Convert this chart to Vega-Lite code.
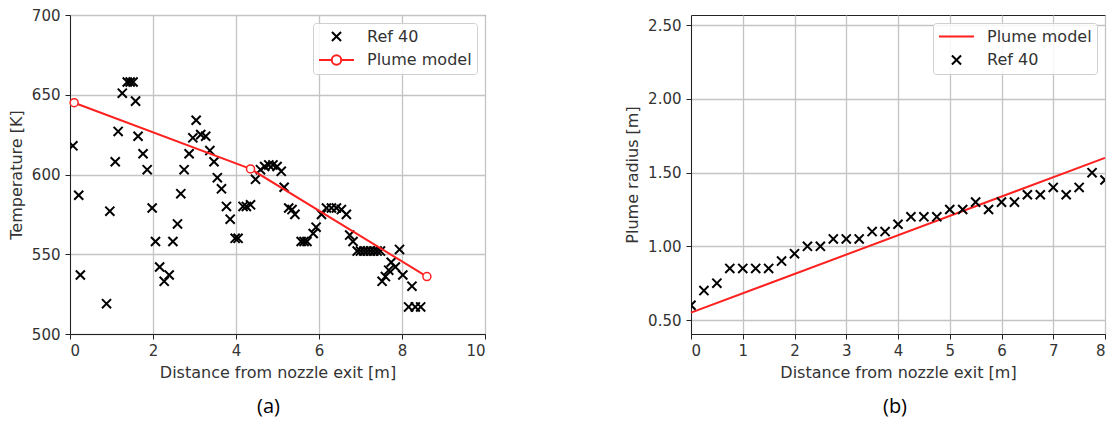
{
  "$schema": "https://vega.github.io/schema/vega-lite/v6.json",
  "background": "white",
  "padding": {"left": 7, "top": 7, "right": 0, "bottom": 0},
  "spacing": 138,
  "config": {
    "font": "DejaVu Sans",
    "view": {"stroke": "#222222", "strokeWidth": 1},
    "axis": {
      "grid": true,
      "gridColor": "#c4c4c4",
      "gridWidth": 1.3,
      "domainColor": "#222222",
      "tickColor": "#222222",
      "tickSize": 5,
      "tickWidth": 1,
      "labelFont": "DejaVu Sans",
      "labelFontSize": 15,
      "labelColor": "#333333",
      "labelPadding": 5,
      "titleFont": "DejaVu Sans",
      "titleFontSize": 16,
      "titleFontWeight": "normal",
      "titleColor": "#333333",
      "titlePadding": 7
    },
    "axisX": {"labelPadding": 4, "titlePadding": 6},
    "legend": {
      "labelFont": "DejaVu Sans",
      "labelFontSize": 16,
      "labelColor": "#333333",
      "fillColor": "rgba(255,255,255,0.85)",
      "strokeColor": "#d0d0d0",
      "cornerRadius": 3,
      "padding": 5,
      "rowPadding": 6.5,
      "clipHeight": 17,
      "labelOffset": 12,
      "symbolStrokeWidth": 2,
      "symbolSize": 1225
    }
  },
  "datasets": {
    "tempRef": [
      {"x": 0.07, "y": 618, "series": "Ref 40"},
      {"x": 0.21, "y": 587, "series": "Ref 40"},
      {"x": 0.25, "y": 537, "series": "Ref 40"},
      {"x": 0.88, "y": 519, "series": "Ref 40"},
      {"x": 0.96, "y": 577, "series": "Ref 40"},
      {"x": 1.09, "y": 608, "series": "Ref 40"},
      {"x": 1.16, "y": 627, "series": "Ref 40"},
      {"x": 1.26, "y": 651, "series": "Ref 40"},
      {"x": 1.38, "y": 658, "series": "Ref 40"},
      {"x": 1.45, "y": 658, "series": "Ref 40"},
      {"x": 1.52, "y": 658, "series": "Ref 40"},
      {"x": 1.58, "y": 646, "series": "Ref 40"},
      {"x": 1.64, "y": 624, "series": "Ref 40"},
      {"x": 1.76, "y": 613, "series": "Ref 40"},
      {"x": 1.86, "y": 603, "series": "Ref 40"},
      {"x": 1.98, "y": 579, "series": "Ref 40"},
      {"x": 2.06, "y": 558, "series": "Ref 40"},
      {"x": 2.16, "y": 542, "series": "Ref 40"},
      {"x": 2.27, "y": 533, "series": "Ref 40"},
      {"x": 2.39, "y": 537, "series": "Ref 40"},
      {"x": 2.48, "y": 558, "series": "Ref 40"},
      {"x": 2.59, "y": 569, "series": "Ref 40"},
      {"x": 2.67, "y": 588, "series": "Ref 40"},
      {"x": 2.75, "y": 603, "series": "Ref 40"},
      {"x": 2.87, "y": 613, "series": "Ref 40"},
      {"x": 2.96, "y": 623, "series": "Ref 40"},
      {"x": 3.04, "y": 634, "series": "Ref 40"},
      {"x": 3.15, "y": 625, "series": "Ref 40"},
      {"x": 3.27, "y": 624, "series": "Ref 40"},
      {"x": 3.37, "y": 615, "series": "Ref 40"},
      {"x": 3.47, "y": 608, "series": "Ref 40"},
      {"x": 3.55, "y": 598, "series": "Ref 40"},
      {"x": 3.65, "y": 591, "series": "Ref 40"},
      {"x": 3.77, "y": 580, "series": "Ref 40"},
      {"x": 3.86, "y": 572, "series": "Ref 40"},
      {"x": 3.98, "y": 560, "series": "Ref 40"},
      {"x": 4.05, "y": 560, "series": "Ref 40"},
      {"x": 4.17, "y": 580, "series": "Ref 40"},
      {"x": 4.25, "y": 580, "series": "Ref 40"},
      {"x": 4.35, "y": 581, "series": "Ref 40"},
      {"x": 4.47, "y": 597, "series": "Ref 40"},
      {"x": 4.59, "y": 603, "series": "Ref 40"},
      {"x": 4.69, "y": 605, "series": "Ref 40"},
      {"x": 4.79, "y": 606, "series": "Ref 40"},
      {"x": 4.89, "y": 606, "series": "Ref 40"},
      {"x": 4.99, "y": 605, "series": "Ref 40"},
      {"x": 5.09, "y": 602, "series": "Ref 40"},
      {"x": 5.16, "y": 592, "series": "Ref 40"},
      {"x": 5.27, "y": 579, "series": "Ref 40"},
      {"x": 5.35, "y": 578, "series": "Ref 40"},
      {"x": 5.42, "y": 575, "series": "Ref 40"},
      {"x": 5.57, "y": 558, "series": "Ref 40"},
      {"x": 5.64, "y": 558, "series": "Ref 40"},
      {"x": 5.71, "y": 558, "series": "Ref 40"},
      {"x": 5.86, "y": 563, "series": "Ref 40"},
      {"x": 5.93, "y": 567, "series": "Ref 40"},
      {"x": 6.06, "y": 575, "series": "Ref 40"},
      {"x": 6.18, "y": 579, "series": "Ref 40"},
      {"x": 6.30, "y": 579, "series": "Ref 40"},
      {"x": 6.42, "y": 579, "series": "Ref 40"},
      {"x": 6.54, "y": 578, "series": "Ref 40"},
      {"x": 6.66, "y": 575, "series": "Ref 40"},
      {"x": 6.74, "y": 562, "series": "Ref 40"},
      {"x": 6.82, "y": 558, "series": "Ref 40"},
      {"x": 6.92, "y": 552, "series": "Ref 40"},
      {"x": 7.00, "y": 552, "series": "Ref 40"},
      {"x": 7.08, "y": 552, "series": "Ref 40"},
      {"x": 7.16, "y": 552, "series": "Ref 40"},
      {"x": 7.24, "y": 552, "series": "Ref 40"},
      {"x": 7.32, "y": 552, "series": "Ref 40"},
      {"x": 7.40, "y": 552, "series": "Ref 40"},
      {"x": 7.48, "y": 552, "series": "Ref 40"},
      {"x": 7.52, "y": 533, "series": "Ref 40"},
      {"x": 7.60, "y": 536, "series": "Ref 40"},
      {"x": 7.68, "y": 540, "series": "Ref 40"},
      {"x": 7.74, "y": 545, "series": "Ref 40"},
      {"x": 7.84, "y": 542, "series": "Ref 40"},
      {"x": 7.94, "y": 553, "series": "Ref 40"},
      {"x": 8.02, "y": 537, "series": "Ref 40"},
      {"x": 8.24, "y": 530, "series": "Ref 40"},
      {"x": 8.16, "y": 517, "series": "Ref 40"},
      {"x": 8.32, "y": 517, "series": "Ref 40"},
      {"x": 8.45, "y": 517, "series": "Ref 40"}
    ],
    "tempModel": [
      {"x": 0.1, "y": 645, "series": "Plume model"},
      {"x": 4.35, "y": 603.5, "series": "Plume model"},
      {"x": 8.6, "y": 536, "series": "Plume model"}
    ],
    "radRef": [
      {"x": 0.0, "y": 0.60, "series": "Ref 40"},
      {"x": 0.25, "y": 0.70, "series": "Ref 40"},
      {"x": 0.5, "y": 0.75, "series": "Ref 40"},
      {"x": 0.75, "y": 0.85, "series": "Ref 40"},
      {"x": 1.0, "y": 0.85, "series": "Ref 40"},
      {"x": 1.25, "y": 0.85, "series": "Ref 40"},
      {"x": 1.5, "y": 0.85, "series": "Ref 40"},
      {"x": 1.75, "y": 0.90, "series": "Ref 40"},
      {"x": 2.0, "y": 0.95, "series": "Ref 40"},
      {"x": 2.25, "y": 1.00, "series": "Ref 40"},
      {"x": 2.5, "y": 1.00, "series": "Ref 40"},
      {"x": 2.75, "y": 1.05, "series": "Ref 40"},
      {"x": 3.0, "y": 1.05, "series": "Ref 40"},
      {"x": 3.25, "y": 1.05, "series": "Ref 40"},
      {"x": 3.5, "y": 1.10, "series": "Ref 40"},
      {"x": 3.75, "y": 1.10, "series": "Ref 40"},
      {"x": 4.0, "y": 1.15, "series": "Ref 40"},
      {"x": 4.25, "y": 1.20, "series": "Ref 40"},
      {"x": 4.5, "y": 1.20, "series": "Ref 40"},
      {"x": 4.75, "y": 1.20, "series": "Ref 40"},
      {"x": 5.0, "y": 1.25, "series": "Ref 40"},
      {"x": 5.25, "y": 1.25, "series": "Ref 40"},
      {"x": 5.5, "y": 1.30, "series": "Ref 40"},
      {"x": 5.75, "y": 1.25, "series": "Ref 40"},
      {"x": 6.0, "y": 1.30, "series": "Ref 40"},
      {"x": 6.25, "y": 1.30, "series": "Ref 40"},
      {"x": 6.5, "y": 1.35, "series": "Ref 40"},
      {"x": 6.75, "y": 1.35, "series": "Ref 40"},
      {"x": 7.0, "y": 1.40, "series": "Ref 40"},
      {"x": 7.25, "y": 1.35, "series": "Ref 40"},
      {"x": 7.5, "y": 1.40, "series": "Ref 40"},
      {"x": 7.75, "y": 1.50, "series": "Ref 40"},
      {"x": 8.0, "y": 1.45, "series": "Ref 40"}
    ],
    "radModel": [
      {"x": 0, "y": 0.55, "series": "Plume model"},
      {"x": 8, "y": 1.6, "series": "Plume model"}
    ]
  },
  "hconcat": [
    {
      "width": 415,
      "height": 319,
      "title": {"text": "(a)", "orient": "bottom", "font": "Open Sans", "fontSize": 20, "fontWeight": "normal", "color": "#000000", "offset": 17, "dx": -9},
      "layer": [
        {
          "data": {"name": "tempRef"},
          "mark": {"type": "point", "strokeWidth": 2, "size": 1225, "opacity": 1, "clip": true},
          "encoding": {
            "x": {"field": "x", "type": "quantitative", "scale": {"domain": [0, 10], "nice": false}, "axis": {"values": [0, 2, 4, 6, 8, 10], "title": "Distance from nozzle exit [m]"}},
            "y": {"field": "y", "type": "quantitative", "scale": {"domain": [500, 700], "nice": false, "zero": false}, "axis": {"values": [500, 525, 550, 575, 600, 625, 650, 675, 700], "title": "Temperature [K]"}},
            "shape": {
              "field": "series", "type": "nominal",
              "scale": {"domain": ["Ref 40", "Plume model"], "range": ["M-0.26,-0.26L0.26,0.26M-0.26,0.26L0.26,-0.26", "M-1,0L-0.27,0M0.27,0L1,0M-0.27,0A0.27,0.27 0 1,0 0.27,0A0.27,0.27 0 1,0 -0.27,0"]},
              "legend": {"title": null, "orient": "top-right", "offset": 8, "symbolSize": 1225}
            },
            "stroke": {
              "field": "series", "type": "nominal",
              "scale": {"domain": ["Ref 40", "Plume model"], "range": ["#000000", "#ff2020"]},
              "legend": {"title": null, "orient": "top-right", "offset": 8, "symbolSize": 1225}
            }
          }
        },
        {
          "data": {"name": "tempModel"},
          "mark": {"type": "line", "color": "#ff2020", "strokeWidth": 2},
          "encoding": {
            "x": {"field": "x", "type": "quantitative"},
            "y": {"field": "y", "type": "quantitative"}
          }
        },
        {
          "data": {"name": "tempModel"},
          "mark": {"type": "point", "shape": "circle", "fill": "white", "stroke": "#ff2020", "strokeWidth": 1.5, "size": 64, "opacity": 1},
          "encoding": {
            "x": {"field": "x", "type": "quantitative"},
            "y": {"field": "y", "type": "quantitative"}
          }
        }
      ]
    },
    {
      "width": 414,
      "height": 319,
      "title": {"text": "(b)", "orient": "bottom", "font": "Open Sans", "fontSize": 20, "fontWeight": "normal", "color": "#000000", "offset": 17, "dx": -3},
      "layer": [
        {
          "data": {"name": "radModel"},
          "mark": {"type": "line", "color": "#ff2020", "strokeWidth": 2},
          "encoding": {
            "x": {"field": "x", "type": "quantitative", "scale": {"domain": [0, 8], "nice": false}, "axis": {"values": [0, 1, 2, 3, 4, 5, 6, 7, 8], "title": "Distance from nozzle exit [m]"}},
            "y": {"field": "y", "type": "quantitative", "scale": {"domain": [0.405, 2.57], "nice": false, "zero": false}, "axis": {"values": [0.5, 0.75, 1.0, 1.25, 1.5, 1.75, 2.0, 2.25, 2.5], "format": ".2f", "title": "Plume radius [m]"}}
          }
        },
        {
          "data": {"name": "radRef"},
          "mark": {"type": "point", "strokeWidth": 2, "size": 1225, "opacity": 1, "clip": true},
          "encoding": {
            "x": {"field": "x", "type": "quantitative"},
            "y": {"field": "y", "type": "quantitative"},
            "shape": {
              "field": "series", "type": "nominal",
              "scale": {"domain": ["Plume model", "Ref 40"], "range": ["M-1,0L1,0", "M-0.26,-0.26L0.26,0.26M-0.26,0.26L0.26,-0.26"]},
              "legend": {"title": null, "orient": "top-right", "offset": 8, "symbolSize": 1225}
            },
            "stroke": {
              "field": "series", "type": "nominal",
              "scale": {"domain": ["Plume model", "Ref 40"], "range": ["#ff2020", "#000000"]},
              "legend": {"title": null, "orient": "top-right", "offset": 8, "symbolSize": 1225}
            }
          }
        }
      ]
    }
  ],
  "resolve": {
    "scale": {"shape": "independent", "stroke": "independent"},
    "legend": {"shape": "independent", "stroke": "independent"}
  }
}
